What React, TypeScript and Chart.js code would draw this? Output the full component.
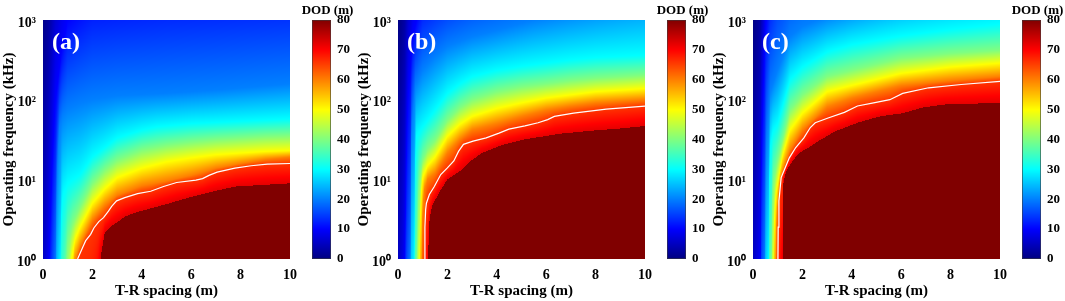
import React, { useEffect, useRef } from "react";
import { Chart, registerables } from "chart.js";
Chart.register(...registerables);

const FONT = "'Liberation Serif', 'Times New Roman', serif";

// ---- axes / ticks ----
const X_TICKS = [0, 2, 4, 6, 8, 10];
const Y_TICKS = [1, 10, 100, 1000];
const Y_TICK_LABELS = ["10\u2070", "10\u00B9", "10\u00B2", "10\u00B3"];
const CB_TICKS = [0, 10, 20, 30, 40, 50, 60, 70, 80];

// DOD value (m) on each contour below; the white line is the 66 m contour,
// the last contour bounds the saturated (80 m) region.
const DOD_LEVELS = [0, 10, 20, 30, 40, 50, 60, 66, 72];
const DOD_SATURATED = 80;

// ---- contour lines of DOD: [T-R spacing (m), frequency (kHz)] ----
// Panel (a)
const A_L0 = [[0, 3981], [0.5, 1e5], [1, 1e6], [10, 1e8]];
const A_L10 = [[0, 0.001], [0.25, 0.79], [0.3, 3.16], [0.4, 25.1], [0.5, 100], [0.75, 398], [1, 1000], [2, 2138], [5, 2818], [10, 3388]];
const A_L20 = [[0, 1e-4], [0.52, 0.89], [0.55, 6.31], [0.6, 20], [0.67, 44.7], [0.8, 63.1], [1.0, 75.9], [1.5, 89.1], [2.0, 100], [3.0, 112], [5.0, 120], [7.0, 132], [10, 158]];
const A_L30 = [[0, 1e-5], [0.72, 0.89], [0.74, 3.16], [0.8, 6.31], [1.0, 8.91], [1.5, 11.5], [2.0, 19.1], [3.0, 33.1], [4.0, 41.7], [4.6, 45.7], [6.0, 50.1], [8.0, 53.7], [10, 57.5]];
const A_L40 = [[0, 1e-6], [0.95, 0.89], [1.0, 1.58], [1.2, 2.82], [1.5, 4.47], [2.0, 8.91], [2.5, 13.2], [3.0, 17.4], [4.0, 23.4], [5.0, 26.9], [6.0, 29.5], [7.0, 31.6], [8.0, 33.1], [9.0, 34.7], [10, 35.5]];
const A_L50 = [[0, 1e-7], [1.13, 0.89], [1.3, 1.78], [1.5, 2.51], [2.0, 5.01], [2.5, 7.59], [3.0, 10.5], [4.0, 13.8], [5.0, 16.6], [6.0, 18.6], [7.0, 20.4], [8.0, 21.4], [9.0, 22.4], [10, 22.9]];
const A_L60 = [[0, 1e-8], [1.27, 0.89], [1.5, 1.48], [2.0, 3.09], [2.5, 4.68], [3.0, 6.31], [4.0, 8.32], [5.0, 9.55], [6.0, 11.2], [7.0, 13.8], [8.0, 15.8], [9.0, 17.8], [10, 19.1]];
const A_WHITE = [[0, 1e-9], [1.4, 1.0], [1.6, 1.38], [1.73, 1.7], [1.93, 2.04], [2.06, 2.45], [2.26, 2.95], [2.45, 3.31], [2.65, 3.98], [2.78, 4.57], [2.98, 5.37], [3.31, 5.89], [3.83, 6.61], [4.36, 7.08], [4.88, 8.13], [5.41, 9.12], [6.19, 9.77], [6.46, 10.2], [6.72, 11.2], [7.05, 12.3], [7.77, 13.8], [8.43, 14.8], [9.08, 15.5], [10, 15.8]];
const A_SAT = [[0, 1e-10], [2.3, 0.89], [2.4, 1.41], [2.5, 2.14], [2.75, 2.57], [3.0, 2.88], [3.3, 3.39], [3.7, 3.8], [4.9, 4.79], [5.9, 5.89], [6.9, 7.08], [7.8, 8.13], [10, 8.91]];

// Panel (b)
const B_L0 = [[0, 1995], [0.3, 31623], [1, 316228], [3, 1e6], [10, 1e7]];
const B_L10 = [[0, 0.001], [0.28, 0.89], [0.32, 10], [0.4, 100], [0.6, 631], [1.0, 1995], [1.5, 2512], [3, 5012], [6, 15849], [10, 1e5]];
const B_L20 = [[0, 1e-4], [0.5, 0.89], [0.52, 6.31], [0.55, 39.8], [0.7, 145], [1.0, 234], [1.5, 347], [2.0, 468], [3.0, 617], [4.0, 741], [5.5, 1000], [10, 1995]];
const B_L30 = [[0, 1e-5], [0.66, 0.89], [0.68, 3.98], [0.7, 15.8], [0.75, 35.5], [1.0, 45.7], [1.5, 74.1], [2.0, 120], [2.5, 158], [3.0, 195], [4.0, 234], [5.0, 263], [6.0, 288], [7.0, 316], [8.0, 339], [10, 363]];
const B_L40 = [[0, 1e-6], [0.77, 0.89], [0.8, 3.98], [0.85, 8.91], [1.0, 17.4], [1.2, 24.0], [1.5, 30.9], [2.0, 55.0], [2.5, 79.4], [3.0, 100], [4.0, 126], [5.0, 145], [6.0, 158], [7.0, 174], [8.0, 186], [10, 204]];
const B_L50 = [[0, 1e-7], [0.88, 0.89], [0.9, 3.16], [0.95, 7.08], [1.0, 10.7], [1.2, 14.8], [1.5, 19.1], [2.0, 34.7], [2.5, 49.0], [3.0, 61.7], [4.0, 77.6], [5.0, 91.2], [6.0, 105], [7.0, 115], [8.0, 126], [10, 138]];
const B_L60 = [[0, 1e-8], [0.97, 0.89], [0.99, 3.16], [1.05, 7.08], [1.2, 10], [1.5, 12.0], [2.0, 21.4], [2.5, 31.6], [3.0, 41.7], [4.0, 50.1], [5.0, 61.7], [6.0, 74.1], [7.0, 83.2], [8.0, 91.2], [10, 100]];
const B_WHITE = [[0, 1e-9], [1.08, 1.0], [1.09, 2.51], [1.12, 4.17], [1.15, 5.01], [1.27, 6.46], [1.47, 8.13], [1.73, 11.5], [1.99, 13.8], [2.26, 17.0], [2.45, 22.4], [2.65, 27.5], [3.04, 30.2], [3.57, 33.1], [4.09, 38.0], [4.49, 42.7], [5.14, 46.8], [5.67, 51.3], [6.06, 56.2], [6.33, 61.7], [7.11, 67.6], [8.43, 75.9], [10, 83.2]];
const B_SAT = [[0, 1e-10], [1.22, 0.89], [1.25, 2.51], [1.3, 3.55], [1.4, 4.79], [1.7, 7.08], [2.0, 10], [2.5, 12.6], [2.9, 16.6], [3.4, 21.4], [4.2, 26.9], [5.1, 31.6], [6.5, 37.2], [7.8, 40.7], [9.1, 43.7], [10, 46.8]];

// Panel (c)
const C_L0 = [[0, 1995], [0.3, 31623], [0.5, 100000], [1, 316228], [3, 1e6], [10, 1e7]];
const C_L10 = [[0, 0.001], [0.3, 0.89], [0.33, 10], [0.4, 100], [0.5, 794], [0.7, 3162], [1.0, 10000], [2, 19953], [5, 39811], [10, 1e5]];
const C_L20 = [[0, 1e-4], [0.48, 0.89], [0.5, 6.31], [0.55, 31.6], [0.7, 126], [1.0, 234], [1.5, 617], [2.0, 832], [3.0, 1122], [4.0, 1413], [6.0, 2239], [10, 5012]];
const C_L30 = [[0, 1e-5], [0.63, 0.89], [0.65, 6.31], [0.7, 25.1], [0.8, 39.8], [1.0, 50.1], [1.5, 178], [2.0, 257], [3.0, 398], [4.0, 490], [6.0, 631], [8.0, 759], [10, 891]];
const C_L40 = [[0, 1e-6], [0.75, 0.89], [0.77, 3.98], [0.82, 8.91], [1.0, 17.4], [1.5, 74.1], [2.0, 115], [3.0, 195], [4.0, 234], [6.0, 331], [8.0, 380], [10, 417]];
const C_L50 = [[0, 1e-7], [0.85, 0.89], [0.87, 3.16], [0.92, 6.31], [1.0, 8.91], [1.2, 20], [1.5, 41.7], [2.0, 67.6], [3.0, 126], [4.0, 151], [6.0, 214], [8.0, 257], [10, 288]];
const C_L60 = [[0, 1e-8], [0.93, 0.89], [0.95, 2.51], [1.0, 5.01], [1.1, 10], [1.3, 15.8], [1.5, 23.4], [2.0, 41.7], [3.0, 81.3], [4.0, 105], [6.0, 151], [8.0, 174], [10, 195]];
const C_WHITE = [[0, 1e-9], [1.01, 1.0], [1.02, 2.51], [1.05, 5.37], [1.14, 10.5], [1.27, 13.2], [1.47, 18.6], [1.73, 25.1], [2.06, 33.1], [2.32, 44.7], [2.52, 51.3], [3.04, 58.9], [3.7, 69.2], [4.23, 83.2], [4.88, 91.2], [5.54, 100], [6.06, 120], [7.11, 141], [8.43, 155], [10, 170]];
const C_SAT = [[0, 1e-10], [1.2, 0.89], [1.22, 8.71], [1.34, 12.6], [1.6, 17.0], [1.86, 21.4], [2.26, 25.1], [2.65, 30.2], [3.31, 39.8], [4.23, 51.3], [5.14, 61.7], [6.06, 67.6], [6.85, 79.4], [7.77, 87.1], [10, 91.2]];

const PANEL_LABELS = ["(a)", "(b)", "(c)"];
const PANELS = [
  { label: PANEL_LABELS[0], contours: [A_L0, A_L10, A_L20, A_L30, A_L40, A_L50, A_L60, A_WHITE, A_SAT], white: A_WHITE },
  { label: PANEL_LABELS[1], contours: [B_L0, B_L10, B_L20, B_L30, B_L40, B_L50, B_L60, B_WHITE, B_SAT], white: B_WHITE },
  { label: PANEL_LABELS[2], contours: [C_L0, C_L10, C_L20, C_L30, C_L40, C_L50, C_L60, C_WHITE, C_SAT], white: C_WHITE },
];

const DOD_MAX = CB_TICKS[CB_TICKS.length - 1];

// ---- helpers ----
function jet(t: number): [number, number, number] {
  const tt = Math.max(0, Math.min(1, t));
  const f = (c: number) => Math.round(255 * Math.max(0, Math.min(1, 1.5 - Math.abs(4 * tt - c))));
  return [f(3), f(2), f(1)];
}

function evalLog(pts: number[][], x: number): number {
  if (x <= pts[0][0]) return Math.log10(pts[0][1]);
  for (let i = 1; i < pts.length; i++) {
    if (x <= pts[i][0]) {
      const [x0, y0] = pts[i - 1];
      const [x1, y1] = pts[i];
      const t = x1 === x0 ? 1 : (x - x0) / (x1 - x0);
      const l0 = Math.log10(y0);
      return l0 + t * (Math.log10(y1) - l0);
    }
  }
  return Math.log10(pts[pts.length - 1][1]);
}

function dodAt(v: number, F: number[]): number {
  if (v >= F[0]) return DOD_LEVELS[0];
  for (let i = 1; i < F.length; i++) {
    if (v >= F[i]) {
      const t = (v - F[i]) / (F[i - 1] - F[i]);
      return DOD_LEVELS[i] - t * (DOD_LEVELS[i] - DOD_LEVELS[i - 1]);
    }
  }
  return DOD_SATURATED;
}

function makeHeatPlugin(contours: number[][][]) {
  return {
    id: "heat",
    beforeDatasetsDraw(chart: any) {
      const { ctx, chartArea: a, scales } = chart;
      const xs = scales.x;
      const ys = scales.y;
      const w = Math.round(a.right - a.left);
      const h = Math.round(a.bottom - a.top);
      const off = document.createElement("canvas");
      off.width = w;
      off.height = h;
      const octx = off.getContext("2d")!;
      const img = octx.createImageData(w, h);
      const rowV = new Float64Array(h);
      for (let j = 0; j < h; j++) rowV[j] = Math.log10(ys.getValueForPixel(a.top + j + 0.5));
      for (let i = 0; i < w; i++) {
        const xv = xs.getValueForPixel(a.left + i + 0.5);
        const F = contours.map((p) => evalLog(p, xv));
        for (let k = 1; k < F.length; k++) if (F[k] > F[k - 1] - 1e-6) F[k] = F[k - 1] - 1e-6;
        for (let j = 0; j < h; j++) {
          const d = dodAt(rowV[j], F);
          const [r, g, b] = jet(d / DOD_MAX);
          const idx = (j * w + i) * 4;
          img.data[idx] = r;
          img.data[idx + 1] = g;
          img.data[idx + 2] = b;
          img.data[idx + 3] = 255;
        }
      }
      octx.putImageData(img, 0, 0);
      ctx.save();
      ctx.drawImage(off, a.left, a.top, w, h);
      ctx.restore();
    },
  };
}

const colorbarPlugin = {
  id: "cbar",
  beforeDatasetsDraw(chart: any) {
    const { ctx, chartArea: a, scales } = chart;
    const ys = scales.y;
    ctx.save();
    for (let py = Math.floor(a.top); py < Math.ceil(a.bottom); py++) {
      const v = ys.getValueForPixel(py + 0.5);
      const [r, g, b] = jet(v / DOD_MAX);
      ctx.fillStyle = `rgb(${r},${g},${b})`;
      ctx.fillRect(a.left, py, a.right - a.left, 1);
    }
    ctx.strokeStyle = "rgba(60,60,60,0.6)";
    ctx.lineWidth = 1;
    ctx.strokeRect(a.left + 0.5, a.top + 0.5, a.right - a.left - 1, a.bottom - a.top - 1);
    ctx.restore();
  },
};

const tickFont = { family: FONT, size: 14, weight: "bold" as const };
const titleFont = { family: FONT, size: 15, weight: "bold" as const };

function Panel({ cfg, left }: { cfg: any; left: number }) {
  const mainRef = useRef<HTMLCanvasElement>(null);
  const barRef = useRef<HTMLCanvasElement>(null);

  useEffect(() => {
    const whitePts = cfg.white.filter((p: number[]) => p[1] >= 1).map((p: number[]) => ({ x: p[0], y: p[1] }));
    const main = new Chart(mainRef.current as HTMLCanvasElement, {
      type: "scatter",
      data: {
        datasets: [
          {
            data: whitePts,
            showLine: true,
            borderColor: "#ffffff",
            borderWidth: 1.2,
            pointRadius: 0,
            pointHoverRadius: 0,
            tension: 0,
          } as any,
        ],
      },
      options: {
        animation: false,
        responsive: false,
        events: [],
        layout: { padding: { top: 20, right: 8, left: 0, bottom: 0 } },
        plugins: { legend: { display: false }, tooltip: { enabled: false } },
        scales: {
          x: {
            type: "linear",
            min: 0,
            max: 10,
            afterBuildTicks: (s: any) => {
              s.ticks = X_TICKS.map((v) => ({ value: v }));
            },
            afterFit: (s: any) => {
              s.height = 42;
            },
            grid: { display: false, drawTicks: false },
            border: { display: false },
            ticks: { font: tickFont, color: "#000", padding: 8, maxRotation: 0, autoSkip: false },
            title: { display: true, text: "T-R spacing (m)", font: titleFont, color: "#000", padding: { top: 0, bottom: 1 } },
          },
          y: {
            type: "logarithmic",
            min: 1,
            max: 1000,
            afterBuildTicks: (s: any) => {
              s.ticks = Y_TICKS.map((v) => ({ value: v }));
            },
            afterFit: (s: any) => {
              s.width = 43;
            },
            grid: { display: false, drawTicks: false },
            border: { display: false },
            ticks: {
              font: tickFont,
              color: "#000",
              padding: 7,
              labelOffset: 3,
              autoSkip: false,
              callback: (v: any) => {
                const i = Y_TICKS.indexOf(Number(v));
                return i >= 0 ? Y_TICK_LABELS[i] : "";
              },
            },
            title: { display: true, text: "Operating frequency (kHz)", font: titleFont, color: "#000", padding: { top: 0, bottom: 0 } },
          },
        },
      } as any,
      plugins: [makeHeatPlugin(cfg.contours)],
    });

    const bar = new Chart(barRef.current as HTMLCanvasElement, {
      type: "scatter",
      data: { datasets: [] },
      options: {
        animation: false,
        responsive: false,
        events: [],
        layout: { padding: { left: 12, top: 20, bottom: 42, right: 0 } },
        plugins: { legend: { display: false }, tooltip: { enabled: false } },
        scales: {
          x: { display: false, min: 0, max: 1 },
          y: {
            position: "right",
            min: 0,
            max: DOD_MAX,
            afterBuildTicks: (s: any) => {
              s.ticks = CB_TICKS.map((v) => ({ value: v }));
            },
            afterFit: (s: any) => {
              s.width = 24;
            },
            grid: { display: false, drawTicks: false },
            border: { display: false },
            ticks: { font: { family: FONT, size: 13, weight: "bold" }, color: "#000", padding: 6, autoSkip: false },
          },
        },
      } as any,
      plugins: [colorbarPlugin],
    });

    return () => {
      main.destroy();
      bar.destroy();
    };
  }, [cfg]);

  return (
    <>
      <canvas ref={mainRef} width={305} height={301} style={{ position: "absolute", left, top: 0, width: 305, height: 301 }} />
      <canvas ref={barRef} width={55} height={301} style={{ position: "absolute", left: left + 300, top: 0, width: 55, height: 301 }} />
      <div
        style={{
          position: "absolute",
          left: left + 52,
          top: 29,
          font: `bold 24px ${FONT}`,
          lineHeight: "24px",
          color: "#fff",
          whiteSpace: "nowrap",
        }}
      >
        {cfg.label}
      </div>
      <div
        style={{
          position: "absolute",
          left: left + 300,
          width: 55,
          top: 2,
          textAlign: "center",
          font: `bold 13px ${FONT}`,
          lineHeight: "16px",
          color: "#000",
          whiteSpace: "nowrap",
        }}
      >
        DOD (m)
      </div>
    </>
  );
}

export default function App() {
  return (
    <div style={{ position: "absolute", left: 0, top: 0, width: 1065, height: 301, background: "#fff", overflow: "hidden" }}>
      {PANELS.map((p, i) => (
        <Panel key={i} cfg={p} left={i * 355} />
      ))}
    </div>
  );
}
